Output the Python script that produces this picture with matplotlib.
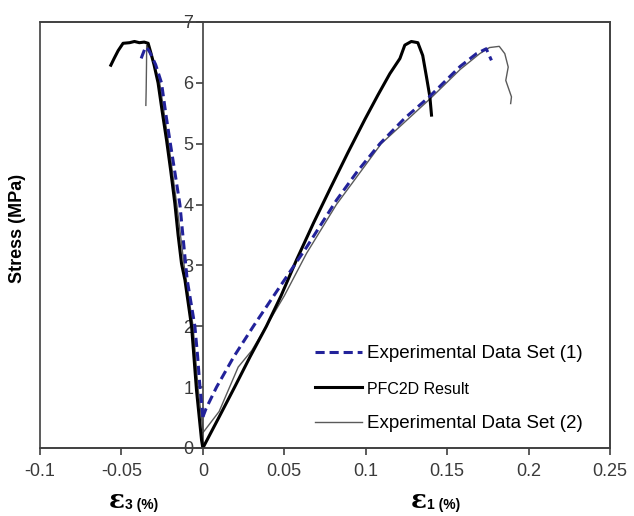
import matplotlib
matplotlib.use("Agg")
import matplotlib.pyplot as plt
from matplotlib.patches import Rectangle

plt.rcParams['font.family'] = ['Liberation Sans', 'DejaVu Sans']

# PFC2D result
pfc_lat_x = [0, -0.0008, -0.0039, -0.0069, -0.011, -0.0131, -0.0152, -0.0172, -0.0197,
             -0.0223, -0.0248, -0.0275, -0.030, -0.032, -0.0336, -0.036, -0.039, -0.042, -0.045,
             -0.049, -0.052, -0.0545, -0.0565]
pfc_lat_y = [0, 0.13, 0.95, 1.99, 2.76, 3.03, 3.5, 4.02, 4.55,
             5.06, 5.5, 6.0, 6.3, 6.5, 6.65, 6.67, 6.66, 6.68, 6.66,
             6.65, 6.53, 6.4, 6.29]
pfc_ax_x = [0, 0.0098, 0.0195, 0.029, 0.039, 0.048, 0.0575, 0.068, 0.0785, 0.089, 0.0995,
            0.1075, 0.1148, 0.121, 0.124, 0.128, 0.132, 0.135, 0.1373, 0.1394, 0.1404]
pfc_ax_y = [0, 0.5, 1.0, 1.5, 2.0, 2.5, 3.09, 3.7, 4.28, 4.85, 5.4,
            5.8, 6.15, 6.4, 6.62, 6.68, 6.66, 6.45, 6.1, 5.77, 5.47]

# Experimental data set (1)
exp1_lat_x = [0, -0.0008, -0.0018, -0.0032, -0.0049, -0.0096, -0.0105, -0.0141, -0.017,
              -0.0203, -0.0228, -0.0254, -0.029, -0.0325, -0.0346, -0.0356, -0.0372, -0.0387]
exp1_lat_y = [0.51, 0.75, 1.0, 1.5, 2.0, 2.76, 3.0, 4.0, 4.5,
              5.06, 5.5, 6.0, 6.3, 6.5, 6.59, 6.56, 6.45, 6.34]
exp1_ax_x = [0, 0.002, 0.0084, 0.019, 0.031, 0.045, 0.0637, 0.082, 0.095, 0.1087,
             0.124, 0.139, 0.158, 0.168, 0.174, 0.1772]
exp1_ax_y = [0.51, 0.65, 1.0, 1.5, 2.0, 2.56, 3.3, 4.07, 4.55, 5.0,
             5.42, 5.77, 6.27, 6.48, 6.56, 6.37]

# Experimental data set (2)
exp2_lat_x = [0, -0.003, -0.006, -0.0115, -0.016, -0.021, -0.0265, -0.031, -0.0345,
              -0.0346, -0.0348, -0.035]
exp2_lat_y = [0.3, 1.0, 2.0, 3.0, 4.0, 5.0, 6.0, 6.4, 6.62,
              6.3, 5.9, 5.63]
exp2_ax_x = [0, 0.01, 0.0217, 0.03, 0.04, 0.05, 0.0637, 0.082, 0.1095, 0.14, 0.158, 0.17,
             0.176, 0.182, 0.1854, 0.1875, 0.186, 0.1895, 0.189]
exp2_ax_y = [0.25, 0.6, 1.33, 1.6, 2.05, 2.5, 3.2, 4.0, 5.0, 5.75, 6.22, 6.48,
             6.58, 6.6, 6.48, 6.26, 6.04, 5.77, 5.66]

x_ticks = [-0.1, -0.05, 0, 0.05, 0.1, 0.15, 0.2, 0.25]
x_tick_labels = ['-0.1', '-0.05', '0', '0.05', '0.1', '0.15', '0.2', '0.25']
y_ticks = [0, 1, 2, 3, 4, 5, 6, 7]
legend_labels = ['Experimental Data Set (1)', 'PFC2D Result', 'Experimental Data Set (2)']

W, H = 634, 516
fig = plt.figure(figsize=(W / 100, H / 100), dpi=100)
ax = fig.add_axes([40 / W, 1 - 448 / H, 570 / W, 426 / H])

blue = '#22229a'
gray = '#5a5a5a'
edge = '#404040'

ax.plot(exp2_lat_x, exp2_lat_y, color=gray, lw=1.0, zorder=2)
l3, = ax.plot(exp2_ax_x, exp2_ax_y, color=gray, lw=1.0, zorder=2)
ax.plot(pfc_lat_x, pfc_lat_y, color='black', lw=2.2, zorder=3)
l2, = ax.plot(pfc_ax_x, pfc_ax_y, color='black', lw=2.2, zorder=3)
ax.plot(exp1_lat_x, exp1_lat_y, color=blue, lw=2.2, ls=(0, (3, 1.6)), zorder=4)
l1, = ax.plot(exp1_ax_x, exp1_ax_y, color=blue, lw=2.2, ls=(0, (3, 1.6)), zorder=4)

ax.set_xlim(-0.1, 0.25)
ax.set_ylim(0, 7)

for s in ['top', 'right', 'bottom']:
    ax.spines[s].set_color(edge)
    ax.spines[s].set_linewidth(1.2)
ax.spines['left'].set_position(('data', 0))
ax.spines['left'].set_color(edge)
ax.spines['left'].set_linewidth(1.2)
ax.add_patch(Rectangle((0, 0), 1, 1, transform=ax.transAxes, fill=False,
                       ec=edge, lw=1.2, clip_on=False, zorder=5))

ax.set_xticks(x_ticks)
ax.set_xticklabels(x_tick_labels)
ax.set_yticks(y_ticks)
ax.tick_params(axis='both', direction='out', length=5, width=1.2, color=edge,
               labelsize=13, labelcolor='#3a3a3a')
ax.tick_params(axis='x', pad=6)
ax.tick_params(axis='y', pad=2)

fig.text(18 / W, 1 - 228 / H, 'Stress (MPa)', rotation=90, fontsize=13,
         fontweight='bold', ha='center', va='center')

for xc, sub in [(131, '3'), (433, '1')]:
    fig.text((xc - 6) / W, 1 - 501 / H, 'ε', fontsize=19, fontweight='bold',
             ha='right', va='center', family=['DejaVu Serif'])
    fig.text((xc - 6) / W, 1 - 505 / H, sub + ' (%)', fontsize=10, fontweight='bold',
             ha='left', va='center')

leg = ax.legend([l1, l2, l3], legend_labels, loc='upper left',
                bbox_to_anchor=(315 / W, 1 - 345 / H), bbox_transform=fig.transFigure,
                frameon=False, fontsize=13.5, handlelength=2.5, handletextpad=0.25,
                labelspacing=0.98, borderpad=0, borderaxespad=0)
leg.get_texts()[1].set_fontsize(11.5)

fig.savefig('out.png', dpi=100)
